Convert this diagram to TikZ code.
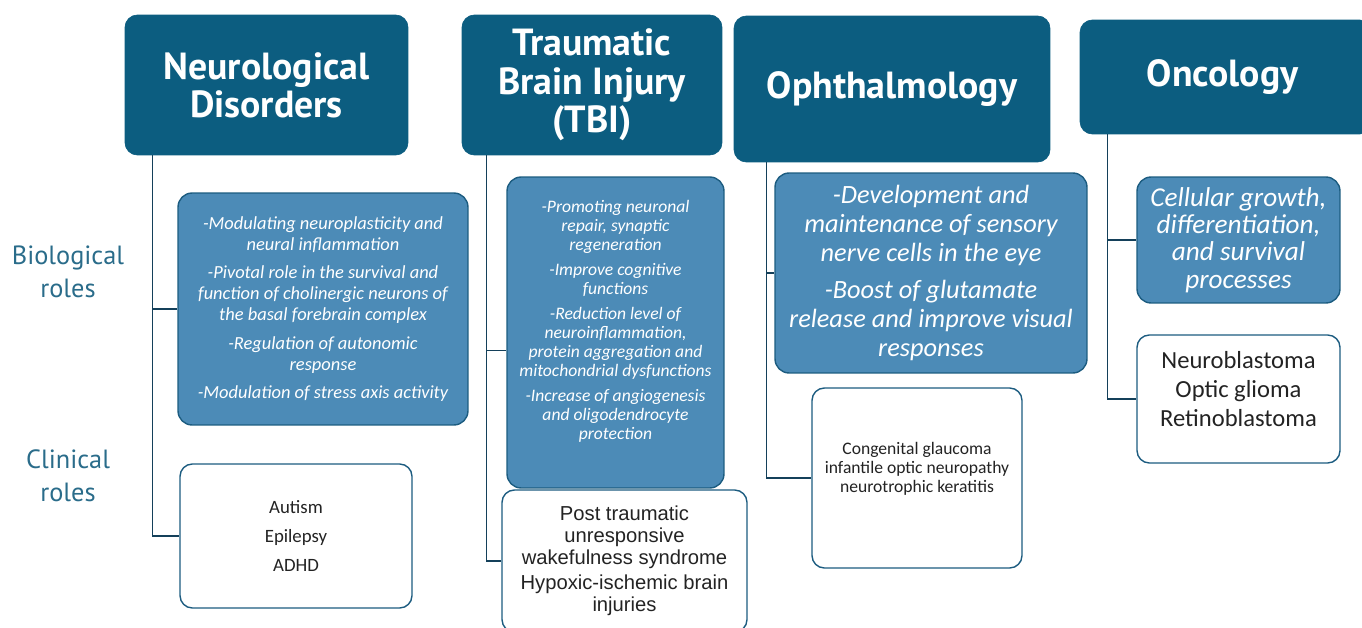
\documentclass[tikz,border=0pt]{standalone}
\usepackage{fontspec}
\setmainfont{Carlito}
\newfontfamily\headfont{PT Sans}
\newfontfamily\arialfont{Liberation Sans}

\definecolor{headblue}{RGB}{12,93,128}
\definecolor{roleblue}{RGB}{76,139,183}
\definecolor{rimblue}{RGB}{28,92,128}
\definecolor{labelblue}{RGB}{42,108,138}
\definecolor{inkgray}{RGB}{35,35,35}

\tikzset{
  head/.style={draw=headblue,fill=headblue,rounded corners=7pt,text=white,align=center,
    font=\headfont\bfseries\fontsize{21.5}{21.8}\selectfont,inner sep=0pt},
  bio/.style={draw=rimblue,line width=0.8pt,fill=roleblue,rounded corners=8pt,text=white,
    align=center,inner sep=0pt,font=\itshape},
  clin/.style={draw=rimblue,line width=0.8pt,fill=white,rounded corners=7pt,text=inkgray,
    align=center,inner sep=0pt},
  link/.style={draw=rimblue!70!black,line width=0.8pt},
  rolelabel/.style={text=labelblue,align=center,font=\headfont\fontsize{15}{18.5}\selectfont}
}

\begin{document}
\begin{tikzpicture}[x=0.02cm,y=-0.02cm]
\useasboundingbox (0,0) rectangle (1362,628);

% row labels
\node[rolelabel] (biolab) at (68,272) {Biological\\roles};
\node[rolelabel] (clinlab) at (68,476) {Clinical\\roles};

% column headers
\node[head,minimum width=5.66cm,minimum height=2.8cm] (nhead) at (266.5,85)
  {Neurological\\Disorders};
\node[head,minimum width=5.2cm,minimum height=2.8cm] (thead) at (592,85)
  {Traumatic\\Brain Injury\\(TBI)};
\node[head,minimum width=6.32cm,minimum height=2.92cm] (ohead) at (892,89)
  {Ophthalmology};
\node[head,minimum width=5.84cm,minimum height=2.28cm] (chead) at (1226,77)
  {\hspace*{-0.14cm}Oncology};

% biological roles
\node[bio,minimum width=5.8cm,minimum height=4.64cm,
  font=\itshape\fontsize{10.5}{12}\selectfont] (nbio) at (323,309)
  {-Modulating neuroplasticity and\\neural inflammation\\[4pt]
   -Pivotal role in the survival and\\function of cholinergic neurons of\\the basal forebrain complex\\[4pt]
   -Regulation of autonomic\\response\\[4pt]
   -Modulation of stress axis activity};
\node[bio,minimum width=4.34cm,minimum height=6.22cm,text depth=14pt,
  font=\itshape\fontsize{10}{10.8}\selectfont] (tbio) at (615.5,332.5)
  {-Promoting neuronal\\repair, synaptic\\regeneration\\[3.5pt]
   -Improve cognitive\\functions\\[3.5pt]
   -Reduction level of\\neuroinflammation,\\protein aggregation and\\mitochondrial dysfunctions\\[3.5pt]
   -Increase of angiogenesis\\and oligodendrocyte\\protection};
\node[bio,minimum width=6.24cm,minimum height=4cm,
  font=\itshape\fontsize{15}{16.5}\selectfont] (obio) at (931,273)
  {-Development and\\maintenance of sensory\\nerve cells in the eye\\[5pt]
   -Boost of glutamate\\release and improve visual\\responses};
\node[bio,minimum width=4.06cm,minimum height=2.52cm,
  font=\itshape\fontsize{15.5}{15.5}\selectfont] (cbio) at (1238.5,240)
  {Cellular growth,\\differentiation,\\and survival\\processes};

% clinical roles
\node[clin,minimum width=4.64cm,minimum height=2.88cm,
  font=\fontsize{10.7}{16.5}\selectfont] (nclin) at (296,536)
  {Autism\\Epilepsy\\ADHD};
\node[clin,minimum width=4.9cm,minimum height=2.84cm,
  font=\arialfont\fontsize{11.5}{12.6}\selectfont] (tclin) at (624.5,561)
  {Post traumatic\\unresponsive\\wakefulness syndrome\\[1.5pt]
   Hypoxic-ischemic brain\\injuries};
\node[clin,minimum width=4.2cm,minimum height=3.6cm,text depth=12pt,
  font=\fontsize{10}{10.8}\selectfont] (oclin) at (917,478)
  {Congenital glaucoma\\infantile optic neuropathy\\neurotrophic keratitis};
\node[clin,minimum width=4.06cm,minimum height=2.56cm,text depth=11pt,
  font=\fontsize{14}{16.5}\selectfont] (cclin) at (1238.5,399)
  {Neuroblastoma\\Optic glioma\\Retinoblastoma};

% trunks and branches
\draw[link] ([xshift=0.56cm]nhead.south west) |- (nbio.west);
\draw[link] ([xshift=0.56cm]nhead.south west) |- (nclin.west);
\draw[link] ([xshift=0.5cm]thead.south west) |- ([yshift=-0.36cm]tbio.west);
\draw[link] ([xshift=0.5cm]thead.south west) |- (tclin.west);
\draw[link] ([xshift=0.66cm]ohead.south west) |- (obio.west);
\draw[link] ([xshift=0.66cm]ohead.south west) |- (oclin.west);
\draw[link] ([xshift=0.56cm]chead.south west) |- (cbio.west);
\draw[link] ([xshift=0.56cm]chead.south west) |- (cclin.west);

\end{tikzpicture}
\end{document}
